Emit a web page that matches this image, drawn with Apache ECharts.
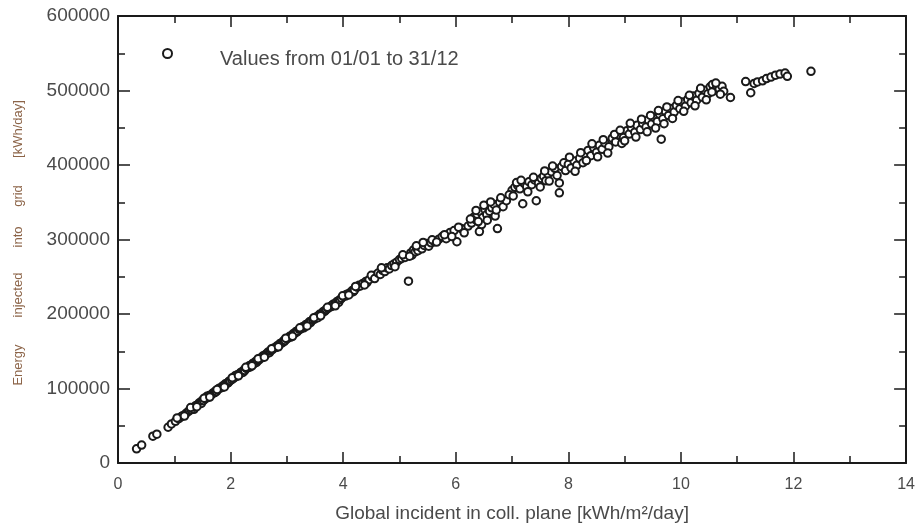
<!DOCTYPE html>
<html>
<head>
<meta charset="utf-8">
<script src="https://cdn.jsdelivr.net/npm/echarts@6/dist/echarts.min.js"></script>
<style>
  html, body { margin: 0; padding: 0; background: #fff; }
  #chart { width: 918px; height: 528px; }
</style>
</head>
<body>
<div id="chart"></div>
<script>
// daily values: [global incident irradiation kWh/m2/day, energy injected kWh/day]
const lowDays = [
  [0.33,19000],[0.42,24000],[0.62,36000],[0.69,38700],[0.89,48000],[0.95,52500],[1.02,56000],[1.08,59500],
  [1.12,62000],[1.15,63500],[1.20,66000],[1.24,68500],[1.27,70500],[1.30,71500],[1.33,73500],[1.35,72000],
  [1.36,75000],[1.38,77000],[1.41,78000],[1.44,80500],[1.46,81000],[1.48,80000],[1.49,83500],[1.52,84000],
  [1.55,86500],[1.57,87500],[1.58,89500],[1.60,88000],[1.62,90500],[1.65,91000],[1.68,93500],[1.70,94000],
  [1.72,94500],[1.73,96500],[1.75,96000],[1.78,99000],[1.80,100500],[1.83,101000],[1.85,101500],[1.86,103500],
  [1.88,104000],[1.91,106500],[1.94,107000],[1.96,108000],[1.97,109500],[1.99,110500],
  [1.05,60500],[1.18,63000],[1.29,74500],[1.40,75500],[1.53,87000],[1.63,88500],[1.76,98500],[1.89,102000]
];
const midDays = [
  [2.02,112000],[2.05,113500],[2.07,115500],[2.08,117000],[2.10,116000],[2.12,118500],[2.15,119000],[2.18,121500],
  [2.20,122000],[2.22,121500],[2.23,124500],[2.25,124000],[2.28,127000],[2.31,128000],[2.33,130500],[2.35,129000],
  [2.36,131000],[2.39,133500],[2.41,133000],[2.44,136000],[2.46,135000],[2.47,137500],[2.50,138000],[2.52,140500],
  [2.55,141000],[2.57,142500],[2.58,144000],[2.61,144500],[2.63,146000],[2.66,148500],[2.69,148000],[2.70,150500],
  [2.72,151500],[2.74,152000],[2.77,154500],[2.80,155000],[2.82,155500],[2.83,157500],[2.86,158000],[2.88,160500],
  [2.91,161000],[2.94,164000],[2.95,163000],[2.97,164500],[3.00,167000],[3.02,167500],[3.05,170000],[3.07,169000],
  [3.08,170500],[3.11,173500],[3.14,174000],[3.16,176500],[3.18,176000],[3.19,177000],[3.22,179500],[3.25,180000],
  [3.28,183000],[3.30,181500],[3.31,183500],[3.34,186000],[3.37,186500],[3.40,189500],[3.42,188500],[3.43,190000],
  [3.46,192500],[3.49,193000],[3.52,196000],[3.55,197000],[3.55,195000],[3.58,199500],[3.61,200000],[3.64,203000],
  [3.67,203500],[3.68,205000],[3.70,206000],[3.73,207500],[3.76,209500],[3.79,210000],[3.80,211500],[3.82,213000],
  [3.85,213500],[3.88,216000],[3.91,217500],[3.92,215500],[3.94,219000],[3.97,221000],[4.00,223500],[4.04,224000],
  [4.05,226000],[4.08,227000],[4.12,228500],[4.16,231500],[4.18,230000],[4.20,232000],[4.25,236000],[4.28,238500],
  [4.30,237500],[4.35,241000],[4.40,243500],[4.42,242000],[4.46,246000],[4.52,249500],[4.58,252500],
  [2.03,114500],[2.14,117000],[2.27,128500],[2.38,130500],[2.49,140000],[2.60,142000],[2.73,153500],[2.85,156000],
  [2.98,167500],[3.10,170000],[3.23,181500],[3.36,184000],[3.48,195000],[3.60,197500],[3.72,209000],[3.86,211000],
  [3.99,224500],[4.10,225500],[4.22,237000],[4.38,239000],[4.50,252000],[4.56,247500]
];
const upperDays = [
  [4.62,255000],[4.66,253000],[4.70,258500],[4.74,257000],[4.78,262000],[4.82,260500],[4.86,265000],[4.90,267000],
  [4.95,269500],[5.00,273000],[5.04,274500],[5.10,276000],[5.16,244000],[5.20,282000],[5.22,279000],[5.25,286000],
  [5.28,283500],[5.31,288000],[5.33,285000],[5.36,290500],[5.40,287500],[5.44,292000],[5.48,294500],[5.52,291000],
  [5.56,295500],[5.62,297000],[5.70,300500],[5.76,304000],[5.83,301000],[5.90,309500],[5.97,312000],[6.02,297000],
  [6.10,314700],[6.22,318000],[6.28,322000],[6.32,330000],[6.35,326500],[6.38,334000],[6.42,310700],[6.44,337000],
  [6.46,320000],[6.48,329500],[6.52,340000],[6.55,333500],[6.58,345000],[6.60,338000],[6.64,342500],[6.68,347000],
  [6.70,331500],[6.74,314700],[6.78,350000],[6.84,344000],[6.90,352000],[7.00,366000],[7.05,370000],[7.10,372500],
  [7.14,368000],[7.19,348000],[7.22,375000],[7.26,371000],[7.30,377500],[7.35,373500],[7.40,380000],[7.43,352000],
  [7.47,376000],[7.52,382000],[7.56,385000],[7.60,379000],[7.64,388000],[7.70,391000],[7.76,395500],[7.84,362700],
  [7.84,376000],[7.88,398000],[7.95,392500],
  [4.68,262000],[4.92,263500],[5.06,279500],[5.18,277500],[5.30,291500],[5.42,296000],[5.58,299500],[5.66,296500],
  [5.80,306500],[5.93,304000],[6.05,316500],[6.15,309000],[6.26,327500],[6.36,339000],[6.40,324000],[6.50,346000],
  [6.56,326000],[6.62,350500],[6.72,339500],[6.80,356000],[6.95,360000],[7.02,358500],[7.08,376500],[7.16,379500],
  [7.28,364000],[7.38,383500],[7.50,370500],[7.58,392000],[7.66,378500],[7.72,398500],[7.80,386000],[7.92,403000]
];
const highDays = [
  [8.00,401000],[8.05,396000],[8.10,405500],[8.15,399500],[8.20,409000],[8.26,403000],[8.30,414000],[8.35,419500],
  [8.40,412500],[8.45,423000],[8.50,417000],[8.55,426500],[8.60,421000],[8.65,429500],[8.72,424500],[8.78,436000],
  [8.84,431000],[8.90,440500],[8.95,429000],[8.98,437000],[9.04,446000],[9.08,441500],[9.12,450000],[9.18,444000],
  [9.22,453500],[9.28,447500],[9.32,456000],[9.38,451000],[9.42,460500],[9.48,455000],[9.52,464000],[9.58,458500],
  [9.62,468000],[9.65,434700],[9.68,462000],[9.72,472500],[9.78,466500],[9.82,476000],[9.88,471000],[9.92,480000],
  [9.98,475500],[10.02,484500],[10.08,479000],[10.12,488000],[10.18,483500],[10.22,492500],[10.28,487000],[10.32,496000],
  [10.38,491000],[10.42,500500],[10.48,495500],[10.52,505000],[10.56,508000],[10.60,500000],[10.64,506500],[10.68,502000],
  [10.73,505700],[10.76,499000],[10.88,490600],[11.15,512000],[11.24,497000],[11.30,509500],[11.36,511500],[11.45,513000],
  [11.52,516000],[11.60,518000],[11.68,520500],[11.76,522000],[11.85,523500],[11.89,519000],[12.31,525700],
  [8.02,410500],[8.12,391500],[8.22,416500],[8.32,406000],[8.42,428500],[8.52,411000],[8.62,434000],[8.70,416000],
  [8.82,441000],[8.92,446500],[9.00,432500],[9.10,456000],[9.20,437500],[9.30,461500],[9.40,444500],[9.46,466500],
  [9.55,449500],[9.60,473000],[9.70,455500],[9.75,478000],[9.85,462500],[9.95,486500],[10.05,472000],[10.15,493500],
  [10.25,479500],[10.35,503000],[10.45,487500],[10.55,498000],[10.62,510000],[10.70,495000]
];

const xTicks = [0, 2, 4, 6, 8, 10, 12, 14];
const yTicks = [0, 100000, 200000, 300000, 400000, 500000, 600000];

const allDays = lowDays.concat(midDays, upperDays, highDays);
const font = 'Liberation Sans, Arial, sans-serif';
const ink = '#1a1a1a';
const textGrey = '#4a4a4a';

function axisX(pos, labels) {
  return {
    type: 'value', position: pos, min: xTicks[0], max: xTicks[xTicks.length - 1], interval: 2,
    axisLine: { show: true, onZero: false, lineStyle: { color: ink, width: 2 } },
    axisTick: { show: true, inside: true, length: 11, lineStyle: { color: ink, width: 1.5 } },
    minorTick: { show: true, splitNumber: 2, length: 7, lineStyle: { color: ink, width: 1.5 } },
    splitLine: { show: false },
    axisLabel: { show: labels, color: textGrey, fontSize: 16, fontFamily: font, margin: 14 },
    name: labels ? 'Global incident in coll. plane [kWh/m²/day]' : '',
    nameLocation: 'middle', nameGap: 41,
    nameTextStyle: { color: textGrey, fontSize: 19, fontFamily: font }
  };
}
function axisY(pos, labels) {
  return {
    type: 'value', position: pos, min: yTicks[0], max: yTicks[yTicks.length - 1], interval: 100000,
    axisLine: { show: true, onZero: false, lineStyle: { color: ink, width: 2 } },
    axisTick: { show: true, inside: true, length: 12, lineStyle: { color: ink, width: 1.5 } },
    minorTick: { show: true, splitNumber: 2, length: 7, lineStyle: { color: ink, width: 1.5 } },
    splitLine: { show: false },
    axisLabel: {
      show: labels, color: textGrey, fontSize: 19, fontFamily: font, margin: 8,
      formatter: function (v) { return String(v); }
    }
  };
}

// y axis title: words spread out as in the original
const yName = [['Energy', 365], ['injected', 295], ['into', 237], ['grid', 196], ['[kWh/day]', 129]];

const chart = echarts.init(document.getElementById('chart'));
chart.setOption({
  backgroundColor: '#fff',
  animation: false,
  grid: { left: 118, right: 11, top: 16, bottom: 62 },
  xAxis: [axisX('bottom', true), axisX('top', false)],
  yAxis: [axisY('left', true), axisY('right', false)],
  legend: {
    left: 157, top: 43,
    icon: 'emptyCircle', itemWidth: 9, itemHeight: 9,
    itemStyle: { color: ink, borderColor: ink, borderWidth: 1.3 },
    formatter: function (n) { return '{t|' + n + '}'; },
    textStyle: {
      color: textGrey, fontSize: 20, fontFamily: font,
      rich: { t: { color: textGrey, fontSize: 20, fontFamily: font, padding: [12, 0, 0, 43] } }
    },
    data: ['Values from 01/01 to 31/12']
  },
  graphic: yName.map(function (w) {
    return {
      type: 'text', x: 18, y: w[1], rotation: Math.PI / 2,
      style: { text: w[0], fill: '#8c6448', font: '13px ' + font, align: 'center', verticalAlign: 'middle' }
    };
  }),
  series: [{
    name: 'Values from 01/01 to 31/12',
    type: 'scatter',
    xAxisIndex: 0, yAxisIndex: 0,
    symbol: 'emptyCircle', symbolSize: 7.5,
    itemStyle: { color: ink, borderColor: ink, borderWidth: 1.5, opacity: 1 },
    emphasis: { disabled: true },
    data: allDays
  }]
});
</script>
</body>
</html>
